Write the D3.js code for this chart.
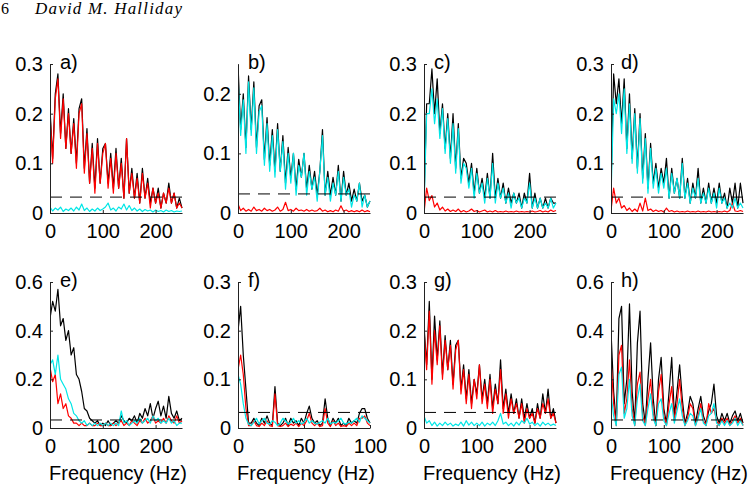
<!DOCTYPE html>
<html>
<head>
<meta charset="utf-8">
<script src="https://cdn.jsdelivr.net/npm/d3@7"></script>
<style>
  body { margin: 0; background: #fff; }
  svg text { font-family: "Liberation Sans", Arial, sans-serif; }
</style>
</head>
<body>
<svg id="fig" width="749" height="486"></svg>
<script>
// frequency grids (Hz)
const freq250 = [0,5,10,15,20,25,30,35,40,45,50,55,60,65,70,75,80,85,90,95,100,105,110,115,120,125,130,135,140,145,150,155,160,165,170,175,180,185,190,195,200,205,210,215,220,225,230,235,240,245,250];
const freq100 = [0,2,4,6,8,10,12,14,16,18,20,22,24,26,28,30,32,34,36,38,40,42,44,46,48,50,52,54,56,58,60,62,64,66,68,70,72,74,76,78,80,82,84,86,88,90,92,94,96,98,100];

// panel a
const aBlack = [0.21,0.11,0.24,0.28,0.16,0.24,0.13,0.21,0.12,0.19,0.10,0.21,0.23,0.09,0.17,0.06,0.14,0.05,0.15,0.06,0.13,0.14,0.06,0.12,0.05,0.13,0.05,0.11,0.03,0.15,0.04,0.09,0.03,0.08,0.02,0.09,0.03,0.07,0.02,0.05,0.02,0.05,0.01,0.04,0.02,0.06,0.02,0.04,0.01,0.03,0.01];
const aRed   = [0.20,0.10,0.23,0.27,0.15,0.23,0.13,0.20,0.12,0.18,0.09,0.20,0.22,0.08,0.16,0.06,0.13,0.04,0.14,0.06,0.12,0.14,0.05,0.11,0.04,0.12,0.05,0.10,0.03,0.15,0.04,0.08,0.03,0.07,0.02,0.08,0.03,0.06,0.01,0.05,0.02,0.04,0.01,0.04,0.02,0.05,0.02,0.04,0.01,0.02,0.01];
const aCyan  = [0.012,0.004,0.010,0.006,0.012,0.003,0.008,0.005,0.010,0.004,0.012,0.006,0.018,0.005,0.010,0.003,0.008,0.004,0.010,0.005,0.008,0.012,0.020,0.006,0.010,0.004,0.012,0.008,0.018,0.006,0.015,0.005,0.010,0.004,0.008,0.003,0.007,0.004,0.006,0.002,0.006,0.003,0.005,0.002,0.006,0.003,0.005,0.002,0.004,0.003,0.004];

// panel b
const bBlack = [0.25,0.14,0.20,0.11,0.23,0.14,0.22,0.11,0.18,0.19,0.09,0.16,0.08,0.14,0.07,0.15,0.07,0.13,0.05,0.11,0.06,0.10,0.04,0.09,0.06,0.10,0.04,0.08,0.04,0.07,0.03,0.07,0.14,0.03,0.07,0.03,0.06,0.03,0.08,0.02,0.07,0.03,0.05,0.02,0.04,0.02,0.05,0.02,0.03,0.01,0.02];
const bRed   = [0.015,0.004,0.008,0.003,0.006,0.003,0.010,0.004,0.006,0.003,0.008,0.004,0.006,0.003,0.005,0.010,0.003,0.006,0.018,0.004,0.006,0.003,0.008,0.004,0.005,0.003,0.006,0.003,0.005,0.003,0.004,0.008,0.003,0.005,0.002,0.004,0.002,0.005,0.003,0.012,0.003,0.005,0.002,0.004,0.002,0.004,0.002,0.005,0.002,0.004,0.002];
const bCyan  = [0.23,0.13,0.19,0.10,0.22,0.13,0.21,0.10,0.17,0.18,0.08,0.15,0.07,0.13,0.06,0.14,0.07,0.12,0.04,0.10,0.05,0.10,0.03,0.08,0.06,0.10,0.03,0.07,0.04,0.06,0.02,0.07,0.13,0.03,0.06,0.02,0.05,0.03,0.07,0.02,0.06,0.03,0.04,0.01,0.03,0.02,0.05,0.01,0.03,0.01,0.02];

// panel c
const cBlack = [0.02,0.22,0.22,0.29,0.20,0.27,0.16,0.22,0.13,0.20,0.11,0.20,0.09,0.18,0.07,0.11,0.10,0.06,0.10,0.04,0.09,0.04,0.07,0.03,0.08,0.03,0.12,0.03,0.07,0.03,0.06,0.02,0.05,0.02,0.04,0.02,0.04,0.01,0.04,0.02,0.08,0.01,0.04,0.01,0.03,0.01,0.03,0.01,0.03,0.02,0.02];
const cRed   = [0.0,0.05,0.025,0.035,0.012,0.02,0.006,0.012,0.004,0.008,0.003,0.006,0.003,0.008,0.002,0.005,0.002,0.004,0.008,0.003,0.005,0.002,0.004,0.006,0.002,0.004,0.002,0.005,0.002,0.003,0.002,0.004,0.002,0.003,0.002,0.004,0.002,0.003,0.002,0.003,0.002,0.004,0.002,0.003,0.005,0.002,0.004,0.002,0.006,0.003,0.005];
const cCyan  = [0.01,0.20,0.20,0.25,0.18,0.23,0.15,0.21,0.12,0.19,0.10,0.18,0.08,0.17,0.06,0.10,0.09,0.05,0.09,0.03,0.08,0.04,0.06,0.02,0.07,0.03,0.10,0.02,0.06,0.03,0.05,0.02,0.04,0.01,0.04,0.02,0.03,0.01,0.03,0.02,0.06,0.01,0.03,0.01,0.03,0.01,0.02,0.01,0.03,0.01,0.02];

// panel d
const dBlack = [0.05,0.28,0.22,0.27,0.18,0.27,0.13,0.24,0.11,0.21,0.09,0.20,0.07,0.16,0.05,0.14,0.06,0.10,0.05,0.09,0.06,0.11,0.03,0.09,0.04,0.07,0.03,0.11,0.03,0.07,0.02,0.06,0.03,0.09,0.02,0.05,0.02,0.06,0.02,0.05,0.02,0.06,0.02,0.04,0.01,0.05,0.02,0.06,0.01,0.06,0.02];
const dRed   = [0.005,0.05,0.02,0.03,0.01,0.015,0.005,0.01,0.003,0.008,0.003,0.02,0.004,0.03,0.005,0.008,0.003,0.006,0.003,0.005,0.002,0.01,0.003,0.005,0.002,0.004,0.002,0.003,0.002,0.004,0.002,0.003,0.002,0.004,0.002,0.003,0.002,0.004,0.002,0.003,0.002,0.003,0.002,0.004,0.002,0.005,0.02,0.004,0.003,0.005,0.003];
const dCyan  = [0.03,0.23,0.20,0.24,0.16,0.25,0.12,0.22,0.10,0.20,0.08,0.19,0.06,0.15,0.04,0.13,0.05,0.09,0.04,0.08,0.05,0.09,0.03,0.08,0.04,0.07,0.03,0.10,0.03,0.06,0.02,0.05,0.03,0.07,0.02,0.04,0.02,0.05,0.02,0.04,0.01,0.05,0.02,0.03,0.01,0.02,0.01,0.03,0.01,0.02,0.01];

// panel e
const eBlack = [0.45,0.52,0.48,0.57,0.42,0.45,0.36,0.40,0.30,0.33,0.22,0.20,0.15,0.08,0.07,0.04,0.03,0.02,0.03,0.01,0.02,0.01,0.03,0.01,0.02,0.03,0.02,0.05,0.03,0.02,0.04,0.03,0.05,0.02,0.06,0.04,0.08,0.05,0.10,0.04,0.08,0.11,0.05,0.09,0.04,0.13,0.06,0.04,0.07,0.03,0.04];
const eRed   = [0.25,0.19,0.22,0.10,0.14,0.08,0.10,0.05,0.04,0.02,0.02,0.01,0.02,0.01,0.01,0.02,0.01,0.01,0.02,0.01,0.01,0.02,0.01,0.01,0.02,0.01,0.02,0.03,0.01,0.02,0.01,0.03,0.02,0.01,0.03,0.02,0.04,0.02,0.03,0.05,0.02,0.03,0.02,0.04,0.02,0.05,0.03,0.02,0.05,0.02,0.03];
const eCyan  = [0.26,0.28,0.22,0.30,0.20,0.18,0.16,0.12,0.10,0.06,0.05,0.03,0.02,0.03,0.01,0.02,0.01,0.02,0.01,0.02,0.01,0.02,0.01,0.02,0.01,0.02,0.01,0.07,0.02,0.03,0.01,0.02,0.03,0.02,0.04,0.02,0.03,0.04,0.02,0.05,0.03,0.04,0.02,0.03,0.02,0.04,0.02,0.03,0.01,0.02,0.02];

// panel f (0-100 Hz)
const fBlack = [0.20,0.25,0.15,0.08,0.01,0.01,0.02,0.01,0.005,0.02,0.01,0.025,0.01,0.005,0.085,0.01,0.005,0.01,0.02,0.005,0.02,0.01,0.015,0.005,0.02,0.01,0.03,0.045,0.02,0.01,0.015,0.005,0.01,0.06,0.02,0.005,0.02,0.01,0.02,0.005,0.01,0.005,0.02,0.01,0.015,0.01,0.03,0.04,0.04,0.02,0.01];
const fRed   = [0.12,0.15,0.11,0.04,0.005,0.005,0.015,0.005,0.003,0.01,0.005,0.015,0.005,0.003,0.07,0.005,0.003,0.005,0.01,0.003,0.008,0.005,0.01,0.003,0.01,0.005,0.015,0.03,0.01,0.005,0.01,0.003,0.005,0.04,0.01,0.003,0.015,0.005,0.01,0.003,0.005,0.003,0.01,0.005,0.01,0.005,0.02,0.02,0.025,0.01,0.005];
const fCyan  = [0.11,0.09,0.05,0.02,0.008,0.005,0.012,0.02,0.008,0.015,0.02,0.01,0.008,0.015,0.012,0.005,0.01,0.02,0.015,0.008,0.012,0.02,0.01,0.015,0.008,0.012,0.02,0.01,0.015,0.01,0.008,0.012,0.015,0.01,0.02,0.008,0.012,0.01,0.015,0.02,0.01,0.008,0.012,0.01,0.015,0.02,0.012,0.025,0.02,0.015,0.01];

// panel g
const gBlack = [0.21,0.13,0.26,0.10,0.23,0.14,0.22,0.11,0.19,0.12,0.18,0.09,0.17,0.18,0.08,0.13,0.06,0.12,0.05,0.10,0.07,0.13,0.06,0.10,0.05,0.11,0.04,0.09,0.05,0.14,0.04,0.08,0.03,0.07,0.03,0.06,0.02,0.06,0.02,0.05,0.02,0.04,0.01,0.05,0.02,0.07,0.03,0.08,0.02,0.04,0.01];
const gRed   = [0.20,0.12,0.24,0.09,0.20,0.13,0.21,0.10,0.18,0.12,0.17,0.08,0.16,0.18,0.07,0.12,0.05,0.11,0.04,0.10,0.06,0.13,0.05,0.09,0.04,0.10,0.03,0.08,0.05,0.12,0.03,0.07,0.02,0.06,0.03,0.05,0.02,0.05,0.01,0.04,0.02,0.03,0.01,0.04,0.02,0.05,0.03,0.06,0.02,0.03,0.01];
const gCyan  = [0.025,0.01,0.015,0.005,0.012,0.004,0.01,0.005,0.012,0.006,0.01,0.004,0.008,0.005,0.012,0.004,0.015,0.006,0.012,0.005,0.01,0.005,0.012,0.004,0.01,0.006,0.012,0.005,0.015,0.03,0.008,0.012,0.005,0.01,0.004,0.012,0.006,0.015,0.01,0.02,0.008,0.012,0.005,0.01,0.004,0.012,0.006,0.01,0.005,0.008,0.005];

// panel h
const hBlack = [0.40,0.15,0.02,0.45,0.50,0.10,0.20,0.51,0.15,0.02,0.35,0.48,0.10,0.02,0.20,0.35,0.12,0.01,0.20,0.29,0.08,0.02,0.15,0.29,0.05,0.15,0.26,0.12,0.02,0.06,0.13,0.10,0.02,0.08,0.13,0.05,0.02,0.07,0.10,0.18,0.05,0.02,0.06,0.03,0.06,0.02,0.05,0.07,0.03,0.06,0.02];
const hRed   = [0.28,0.10,0.01,0.30,0.34,0.06,0.12,0.28,0.08,0.01,0.18,0.23,0.05,0.01,0.12,0.20,0.06,0.01,0.15,0.22,0.05,0.01,0.10,0.17,0.03,0.10,0.20,0.08,0.01,0.04,0.10,0.08,0.01,0.05,0.10,0.03,0.01,0.10,0.06,0.08,0.03,0.01,0.04,0.02,0.04,0.01,0.03,0.05,0.02,0.04,0.01];
const hCyan  = [0.14,0.05,0.01,0.22,0.25,0.04,0.08,0.20,0.05,0.01,0.12,0.18,0.03,0.01,0.08,0.14,0.04,0.01,0.10,0.12,0.03,0.01,0.06,0.10,0.02,0.07,0.12,0.05,0.01,0.03,0.06,0.05,0.01,0.04,0.08,0.02,0.01,0.05,0.06,0.10,0.02,0.01,0.03,0.01,0.03,0.01,0.02,0.04,0.01,0.03,0.01];

const panelLabels = ["a)","b)","c)","d)","e)","f)","g)","h)"];
const yMaxes      = [0.3, 0.25, 0.3, 0.3, 0.6, 0.3, 0.3, 0.6];
const yTickSets   = [[0,0.1,0.2,0.3],[0,0.1,0.2],[0,0.1,0.2,0.3],[0,0.1,0.2,0.3],
                     [0,0.2,0.4,0.6],[0,0.1,0.2,0.3],[0,0.1,0.2,0.3],[0,0.2,0.4,0.6]];
const xTicks250   = [0,100,200];
const xTicks100   = [0,50,100];
const confLimits  = [0.032,0.032,0.032,0.032,0.033,0.032,0.032,0.033];
const xLabel = "Frequency (Hz)";

const panels = [
  {freq: freq250, xMax: 250, xTicks: xTicks250, black: aBlack, red: aRed, cyan: aCyan},
  {freq: freq250, xMax: 250, xTicks: xTicks250, black: bBlack, red: bRed, cyan: bCyan},
  {freq: freq250, xMax: 250, xTicks: xTicks250, black: cBlack, red: cRed, cyan: cCyan},
  {freq: freq250, xMax: 250, xTicks: xTicks250, black: dBlack, red: dRed, cyan: dCyan},
  {freq: freq250, xMax: 250, xTicks: xTicks250, black: eBlack, red: eRed, cyan: eCyan},
  {freq: freq100, xMax: 100, xTicks: xTicks100, black: fBlack, red: fRed, cyan: fCyan},
  {freq: freq250, xMax: 250, xTicks: xTicks250, black: gBlack, red: gRed, cyan: gCyan},
  {freq: freq250, xMax: 250, xTicks: xTicks250, black: hBlack, red: hRed, cyan: hCyan}
];

// layout
const colLeft = [50, 238, 424, 611];
const rowTop = [64, 282];
const rowBottom = [213, 428];
const plotW = 132;
const fontSize = 20;

const svg = d3.select("#fig");

// running header
svg.append("text")
  .attr("x", 1).attr("y", 14)
  .style("font-family", "'Liberation Serif', serif")
  .style("font-size", "16px")
  .text("6");
svg.append("text")
  .attr("x", 35).attr("y", 14)
  .attr("textLength", 147)
  .attr("lengthAdjust", "spacing")
  .style("font-family", "'Liberation Serif', serif")
  .style("font-style", "italic")
  .style("font-size", "17px")
  .text("David M. Halliday");

panels.forEach((p, i) => {
  const row = i < 4 ? 0 : 1;
  const left = colLeft[i % 4];
  const top = rowTop[row];
  const bottom = rowBottom[row];

  const x = d3.scaleLinear().domain([0, p.xMax]).range([left, left + plotW]);
  const y = d3.scaleLinear().domain([0, yMaxes[i]]).range([bottom, top]);

  const g = svg.append("g");

  const clipId = "clip" + i;
  g.append("clipPath").attr("id", clipId)
    .append("rect")
    .attr("x", left).attr("y", top - 1)
    .attr("width", plotW + 1).attr("height", bottom - top + 1);

  const line = d3.line()
    .x((d, k) => x(p.freq[k]))
    .y(d => y(d));

  const traces = g.append("g").attr("clip-path", "url(#" + clipId + ")");
  [[p.black, "#000"], [p.red, "#ff0000"], [p.cyan, "#00e6e6"]].forEach(([vals, col]) => {
    traces.append("path")
      .datum(vals)
      .attr("fill", "none")
      .attr("stroke", col)
      .attr("stroke-width", 1.2)
      .attr("stroke-linejoin", "round")
      .attr("d", line);
  });

  // confidence limit
  g.append("line")
    .attr("x1", x(0)).attr("x2", x(p.xMax))
    .attr("y1", y(confLimits[i])).attr("y2", y(confLimits[i]))
    .attr("stroke", "#000")
    .attr("stroke-width", 1)
    .attr("stroke-dasharray", "12,8");

  const yAxis = d3.axisLeft(y).tickValues(yTickSets[i])
    .tickFormat(d => String(d))
    .tickSize(-3).tickSizeOuter(0).tickPadding(7);
  const xAxis = d3.axisBottom(x).tickValues(p.xTicks)
    .tickFormat(d => String(d))
    .tickSize(-3).tickSizeOuter(0).tickPadding(11);

  const ya = g.append("g").attr("transform", "translate(" + left + ",0)").call(yAxis);
  const xa = g.append("g").attr("transform", "translate(0," + bottom + ")").call(xAxis);
  [ya, xa].forEach(a => {
    a.selectAll("text").style("font-size", fontSize + "px").attr("fill", "#000");
    a.select(".domain").attr("stroke", "#222");
    a.selectAll(".tick line").attr("stroke", "#222");
  });

  g.append("text")
    .attr("x", left + 10).attr("y", top + 5)
    .style("font-size", fontSize + "px")
    .text(panelLabels[i]);

  if (row === 1) {
    g.append("text")
      .attr("x", left + plotW / 2 + 2).attr("y", 480)
      .attr("text-anchor", "middle")
      .style("font-size", fontSize + "px")
      .text(xLabel);
  }
});
</script>
</body>
</html>
